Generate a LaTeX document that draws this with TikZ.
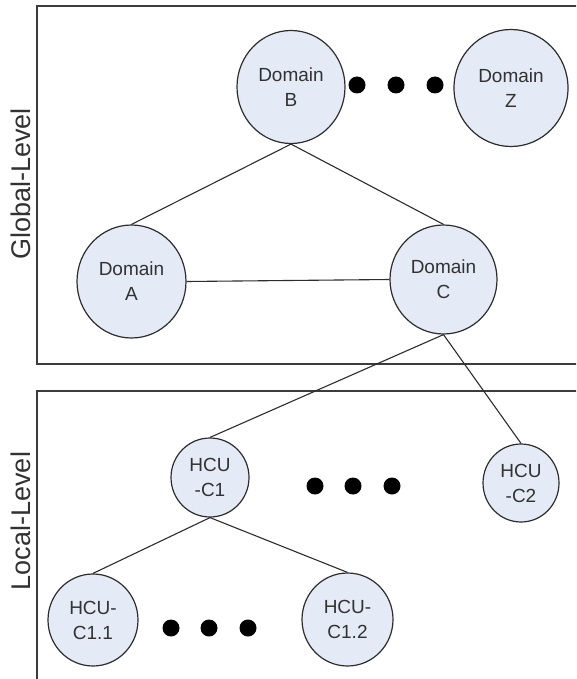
\documentclass[tikz,border=0pt]{standalone}
\usepackage{fontspec}
\setmainfont{Liberation Sans}
\usetikzlibrary{shapes.geometric}
\definecolor{nodefill}{RGB}{228,235,246}
\definecolor{edgegray}{RGB}{45,45,45}
\definecolor{boxgray}{RGB}{60,60,60}
\definecolor{txtgray}{RGB}{50,50,50}
\tikzset{
  dom/.style={ellipse, draw=edgegray, line width=1.2pt, fill=nodefill, inner sep=0pt,
    align=center, text=txtgray, font=\fontsize{19}{25}\selectfont},
  conn/.style={draw=edgegray, line width=1.1pt},
  levelbox/.style={draw=boxgray, line width=2pt},
  dotmark/.style={fill=black},
  levellabel/.style={rotate=90, text=txtgray, font=\fontsize{27}{30}\selectfont, inner sep=0pt}
}
\begin{document}
\begin{tikzpicture}[x=1pt,y=-1pt]
\useasboundingbox (0,0) rectangle (576,679);
\clip (0,0) rectangle (576,679);
\fill[white] (0,0) rectangle (576,679);
% level boxes
\draw[levelbox] (37,6) rectangle (620,364);
\draw[levelbox] (37,391) rectangle (620,720);
\node[levellabel] (glob) at (21,184) {Global-Level};
\node[levellabel] (loc) at (21,521) {Local-Level};
% nodes
\node[dom, minimum width=108pt, minimum height=113pt] (B) at (291,87) {Domain\\B};
\node[dom, minimum width=114pt, minimum height=117pt] (Z) at (511,88) {Domain\\Z};
\node[dom, minimum width=109pt, minimum height=113pt] (A) at (131.5,281.5) {Domain\\A};
\node[dom, minimum width=107pt, minimum height=109pt] (C) at (443.5,279.5) {Domain\\C};
\node[dom, minimum width=78pt, minimum height=79pt] (C1) at (210,477.5) {HCU\\-C1};
\node[dom, minimum width=76pt, minimum height=78pt] (C2) at (521,483) {HCU\\-C2};
\node[dom, minimum width=90pt, minimum height=92pt] (C11) at (93,620) {HCU-\\C1.1};
\node[dom, minimum width=91pt, minimum height=93pt] (C12) at (347.5,619.5) {HCU-\\C1.2};
% connectors
\draw[conn] (B.south) -- (A.north);
\draw[conn] (B.south) -- (C.north);
\draw[conn] (A.east) -- (C.west);
\draw[conn] (C.south) -- (C1.north);
\draw[conn] (C.south) -- (C2.north);
\draw[conn] (C1.south) -- (C11.north);
\draw[conn] (C1.south) -- (C12.north);
% ellipsis dots
\foreach \x in {357,396,435} \fill[dotmark] (\x,85) circle (8.5pt);
\foreach \x in {315,353,392} \fill[dotmark] (\x,486) circle (8.5pt);
\foreach \x in {171,209,248} \fill[dotmark] (\x,628) circle (8.5pt);
\end{tikzpicture}
\end{document}
